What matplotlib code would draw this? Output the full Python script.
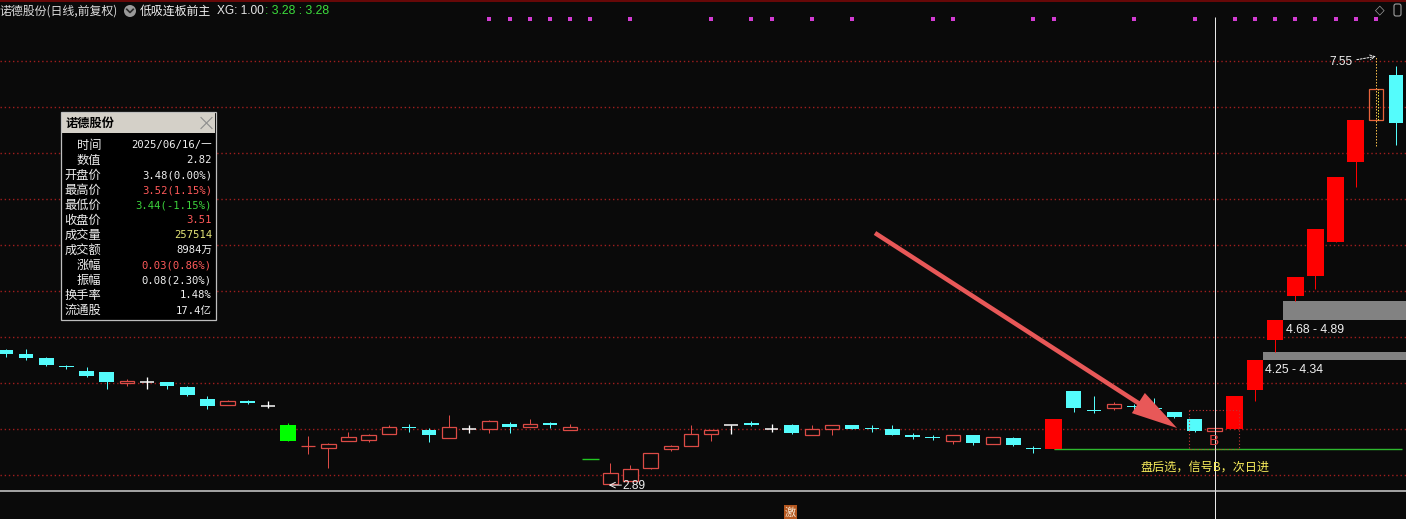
import matplotlib
matplotlib.use("Agg")
import matplotlib.pyplot as plt
import matplotlib.transforms as mtransforms
from matplotlib.patches import Rectangle, FancyArrow, Circle, FancyBboxPatch
import numpy as np

plt.rcParams['font.family'] = ['Noto Sans CJK SC', 'DejaVu Sans']

# ---------------- data ----------------
opens  = [4.36, 4.32, 4.27, 4.19, 4.13, 4.12, 4.00, 4.01, 4.01, 3.96,
          3.83, 3.76, 3.80, 3.75, 3.54, 3.31, 3.29, 3.37, 3.38, 3.45,
          3.52, 3.49, 3.40, 3.50, 3.50, 3.55, 3.52, 3.56, 3.49, 3.17,
          2.90, 2.94, 3.08, 3.28, 3.31, 3.45, 3.54, 3.57, 3.50, 3.54,
          3.43, 3.50, 3.54, 3.51, 3.50, 3.44, 3.41, 3.37, 3.44, 3.34,
          3.40, 3.29, 3.28, 3.91, 3.71, 3.73, 3.75, 3.73, 3.69, 3.61,
          3.48, 3.50, 3.92, 4.47, 4.95, 5.16, 5.53, 6.40, 6.86, 7.35]
highs  = [4.37, 4.37, 4.28, 4.20, 4.17, 4.12, 4.04, 4.06, 4.01, 3.97,
          3.86, 3.81, 3.81, 3.80, 3.56, 3.42, 3.35, 3.47, 3.45, 3.54,
          3.55, 3.51, 3.65, 3.54, 3.60, 3.58, 3.61, 3.58, 3.55, 3.17,
          3.13, 3.11, 3.24, 3.33, 3.54, 3.49, 3.54, 3.59, 3.55, 3.55,
          3.54, 3.54, 3.54, 3.54, 3.54, 3.46, 3.44, 3.44, 3.44, 3.41,
          3.41, 3.31, 3.61, 3.91, 3.86, 3.79, 3.77, 3.84, 3.69, 3.61,
          3.52, 3.86, 4.25, 4.68, 5.15, 5.67, 6.24, 6.86, 7.55, 7.45]
lows   = [4.28, 4.25, 4.18, 4.15, 4.06, 3.94, 3.97, 3.94, 3.94, 3.86,
          3.72, 3.76, 3.77, 3.73, 3.37, 3.23, 3.08, 3.37, 3.36, 3.45,
          3.47, 3.36, 3.40, 3.46, 3.46, 3.46, 3.52, 3.51, 3.49, 3.17,
          2.89, 2.94, 3.07, 3.26, 3.31, 3.37, 3.45, 3.53, 3.47, 3.45,
          3.43, 3.44, 3.50, 3.47, 3.43, 3.39, 3.38, 3.34, 3.33, 3.34,
          3.32, 3.24, 3.28, 3.69, 3.67, 3.71, 3.69, 3.66, 3.62, 3.47,
          3.44, 3.50, 3.80, 4.34, 4.89, 5.02, 5.53, 6.13, 6.58, 6.59]
closes = [4.31, 4.27, 4.20, 4.17, 4.08, 4.01, 4.02, 4.01, 3.97, 3.87,
          3.75, 3.80, 3.78, 3.75, 3.37, 3.32, 3.34, 3.41, 3.43, 3.52,
          3.51, 3.44, 3.52, 3.50, 3.59, 3.52, 3.55, 3.54, 3.52, 3.17,
          3.02, 3.06, 3.24, 3.31, 3.45, 3.49, 3.54, 3.54, 3.50, 3.46,
          3.50, 3.54, 3.50, 3.50, 3.44, 3.41, 3.40, 3.44, 3.35, 3.41,
          3.33, 3.28, 3.61, 3.73, 3.70, 3.77, 3.74, 3.72, 3.63, 3.48,
          3.51, 3.86, 4.25, 4.68, 5.15, 5.67, 6.24, 6.86, 7.20, 6.83]

signal_idx = [24, 25, 26, 27, 28, 29, 31, 35, 37, 38, 40, 42, 46, 47, 51, 52,
              56, 59, 61, 62, 63, 64, 65, 66, 67, 68]
grid_prices = [3.0, 3.5, 4.0, 4.5, 5.0, 5.5, 6.0, 6.5, 7.0, 7.5]
support_price = 3.28
support_start = 52
gap_idx = [62, 63]
gap_low = [4.25, 4.68]
gap_high = [4.34, 4.89]
special_idx = 68
cursor_idx = 60
high_mark_idx = 68
low_mark_idx = 30
jili_idx = 39

title_name = '诺德股份(日线,前复权)'
title_formula = '低吸连板前主'
title_xg = 'XG: 1.00'
title_vals = ': 3.28 : 3.28'

info_title = '诺德股份'
info_labels = ['时间', '数值', '开盘价', '最高价', '最低价', '收盘价',
               '成交量', '成交额', '涨幅', '振幅', '换手率', '流通股']
info_values = ['2025/06/16/一', '2.82', '3.48(0.00%)', '3.52(1.15%)',
               '3.44(-1.15%)', '3.51', '257514', '8984万', '0.03(0.86%)',
               '0.08(2.30%)', '1.48%', '17.4亿']
note_text = '盘后选，信号B，次日进'

# ---------------- style ----------------
W, H, DPI = 1406, 519, 100
BG = '#0A0A0A'
UP = '#DC4B46'
DOWN = '#54FCFC'
LIM_UP = '#FF0000'
LIM_DN = '#00FF00'
FLAT = '#FFFFFF'
PX = 0.72
WN = 0.72   # normal body width
WL = 0.83   # limit body width
WC = 0.68   # cross width

fig = plt.figure(figsize=(W / DPI, H / DPI), dpi=DPI, facecolor=BG)
ax = fig.add_axes([0, 0, 1, 1])
ax.set_facecolor(BG)
x0, dx = 6.0, 20.145
ax.set_xlim((0 - x0) / dx, (W - x0) / dx)
ax.set_ylim(7.5 - (H - 61) / 92.0, 7.5 + 61 / 92.0)
ax.axis('off')
xmin, xmax = ax.get_xlim()

# grid
ax.hlines(grid_prices, xmin, xmax, colors='#A01E1E', linestyles=(0, (1.0, 2.0)),
          lw=1.0, zorder=0)

n = len(opens)
for i in range(n):
    o, h, l, c = opens[i], highs[i], lows[i], closes[i]
    prev = closes[i - 1] if i else o
    pct = c / prev - 1
    if i == special_idx:
        ax.vlines(i, l, h, color='#F0B848', lw=PX, linestyles=(0, (1.5, 1.5)), zorder=3)
        ax.add_patch(Rectangle((i - WN / 2, min(o, c)), WN, abs(c - o),
                               facecolor='none', edgecolor='#E8643C', lw=0.9, zorder=4))
        ax.vlines(i + 0.12, min(o, c), max(o, c), color='#E8E040', lw=PX,
                  linestyles=(0, (1.5, 1.5)), zorder=4)
        continue
    if pct >= 0.095:
        ax.vlines(i, l, h, color=LIM_UP, lw=PX, zorder=3)
        ax.add_patch(Rectangle((i - WL / 2, o), WL, c - o, facecolor=LIM_UP,
                               edgecolor='none', zorder=4))
    elif pct <= -0.095:
        if h == l:
            ax.hlines(c, i - WL / 2, i + WL / 2, color='#22C822', lw=1.0, zorder=4)
        else:
            ax.vlines(i, l, h, color=LIM_DN, lw=PX, zorder=3)
            ax.add_patch(Rectangle((i - WL / 2, c), WL, o - c, facecolor=LIM_DN,
                                   edgecolor='none', zorder=4))
    elif c > o:
        ax.vlines(i, c, h, color=UP, lw=PX, zorder=3)
        ax.vlines(i, l, o, color=UP, lw=PX, zorder=3)
        ax.add_patch(Rectangle((i - WN / 2, o), WN, c - o, facecolor=BG,
                               edgecolor=UP, lw=0.9, zorder=4))
    elif c < o:
        ax.vlines(i, l, h, color=DOWN, lw=PX, zorder=3)
        ax.add_patch(Rectangle((i - WN / 2, c), WN, o - c, facecolor=DOWN,
                               edgecolor='none', zorder=4))
    else:
        ax.vlines(i, l, h, color=FLAT, lw=PX * 1.3, zorder=3)
        ax.hlines(c, i - WC / 2, i + WC / 2, color=FLAT, lw=PX * 1.5, zorder=3)

# support line
ax.hlines(support_price, support_start, n - 1 + 0.3, color='#2EB82E', lw=1.0, zorder=2)

# gap bars
for gi, lo, hi in zip(gap_idx, gap_low, gap_high):
    xs = gi + WL / 2
    ax.add_patch(Rectangle((xs, lo), xmax - xs, hi - lo, facecolor='#828282',
                           edgecolor='none', zorder=2))
    ax.text(xs + 0.1, lo - 0.108, f'{lo:.2f} - {hi:.2f}', color='#F0F0F0',
            fontsize=8.8, family=['Liberation Sans'], ha='left', va='center', zorder=5)

# signal dots
btr = mtransforms.blended_transform_factory(ax.transData, ax.transAxes)
ax.scatter(signal_idx, [1 - 19 / H] * len(signal_idx), marker='s', s=5.5,
           color='#D23CD2', transform=btr, zorder=5, linewidths=0)

# cursor line
ax.vlines(cursor_idx, 0, 1 - 16.5 / H, color='#E8E8E8', lw=PX, transform=btr, zorder=6)

# high / low marks
ax.annotate('7.55', xy=(high_mark_idx, highs[high_mark_idx]),
            xytext=(high_mark_idx - 1.15, highs[high_mark_idx] - 0.065),
            color='#F0F0F0', fontsize=8.6, family=['Liberation Sans'],
            ha='right', va='center',
            arrowprops=dict(arrowstyle='->', color='#F0F0F0', lw=0.7,
                            linestyle=(0, (2, 1.5)), shrinkA=1, shrinkB=0), zorder=6)
ax.annotate('', xy=(low_mark_idx - 0.08, lows[low_mark_idx]),
            xytext=(low_mark_idx + 0.55, lows[low_mark_idx]),
            arrowprops=dict(arrowstyle='->', color='#F0F0F0', lw=0.7,
                            shrinkA=0, shrinkB=0), zorder=6)
ax.text(low_mark_idx + 0.6, lows[low_mark_idx] - 0.01, '2.89', color='#F0F0F0',
        fontsize=8.6, family=['Liberation Sans'], ha='left', va='center', zorder=6)

# ---------------- overlay (pixel coords) ----------------
ov = fig.add_axes([0, 0, 1, 1], facecolor='none')
ov.set_xlim(0, W)
ov.set_ylim(H, 0)
ov.axis('off')

ov.plot([0, W], [0.6, 0.6], color='#6A0808', lw=1.4)
ov.plot([0, W], [491, 491], color='#D0D0D0', lw=1.1)

# title
ov.text(-1, 11, title_name, color='#DCDCDC', fontsize=8.6, ha='left', va='center')
ov.add_patch(Circle((130, 11), 6, facecolor='#9A9A9A', edgecolor='none'))
ov.plot([126.8, 130, 133.2], [9.3, 12.5, 9.3], color='#2A2A2A', lw=1.2)
ov.text(140, 11, title_formula, color='#F0F0F0', fontsize=8.6, ha='left', va='center')
ov.text(217, 11, title_xg, color='#E6E6E6', fontsize=8.6, family=['Liberation Sans'],
        ha='left', va='center')
ov.text(265, 11, title_vals, color='#3CDC3C', fontsize=8.8, family=['Liberation Sans'],
        ha='left', va='center')

# top-right icons
ov.text(1380, 10, '◇', color='#A0A0A0', fontsize=9, family=['DejaVu Sans'],
        ha='center', va='center')
ov.add_patch(FancyBboxPatch((1394, 4), 7, 12, boxstyle='round,pad=0,rounding_size=2',
                            facecolor='none', edgecolor='#A0A0A0', lw=0.8))

# info box
ov.add_patch(Rectangle((61, 112), 155, 208, facecolor='#000000', edgecolor='#BEBEBE',
                       lw=0.9, zorder=7))
ov.add_patch(Rectangle((62, 113), 153, 20, facecolor='#D4D0C8', edgecolor='none', zorder=8))
ov.text(66, 123, info_title, color='#000000', fontsize=8.8, fontweight='bold',
        ha='left', va='center', zorder=9)
ov.plot([201, 212], [117.5, 128.5], color='#8C8C8C', lw=0.8, zorder=9)
ov.plot([201, 212], [128.5, 117.5], color='#8C8C8C', lw=0.8, zorder=9)
val_colors = ['#F0F0F0', '#F0F0F0', '#F0F0F0', '#FF5A5A', '#3CD23C', '#FF5A5A',
              '#E6E678', '#F0F0F0', '#FF5A5A', '#F0F0F0', '#F0F0F0', '#F0F0F0']
for k, (lab, val, vc) in enumerate(zip(info_labels, info_values, val_colors)):
    y = 145 + 15.05 * k
    ov.text(101, y, lab, color='#EDEDED', fontsize=8.8, ha='right', va='center', zorder=9)
    ov.text(212, y, val, color=vc, fontsize=7.6,
            family=['DejaVu Sans Mono', 'Noto Sans CJK SC'], ha='right', va='center', zorder=9)

# big arrow
ov.add_patch(FancyArrow(875, 233, 1177 - 875, 428 - 233, width=4.5, head_width=24,
                        head_length=46, length_includes_head=True,
                        facecolor='#E85858', edgecolor='none', zorder=6))

# dotted signal box and B
ov.add_patch(Rectangle((1189, 410), 50, 39, facecolor='none', edgecolor='#C83232',
                       lw=0.8, linestyle=(0, (1, 2)), zorder=3))
ov.text(1214, 441, 'B', color='#DC3C3C', fontsize=11, family=['Liberation Sans'],
        ha='center', va='center', zorder=5)
ov.text(1140, 467, note_text, color='#F8EC5A', fontsize=8.7, ha='left', va='center')

# 激 marker
ov.add_patch(Rectangle((784, 505), 13, 15, facecolor='#B4561E', edgecolor='none'))
ov.text(790.5, 512.5, '激', color='#F5E6D2', fontsize=8, ha='center', va='center')

fig.savefig('out.png', dpi=DPI, facecolor=BG)
